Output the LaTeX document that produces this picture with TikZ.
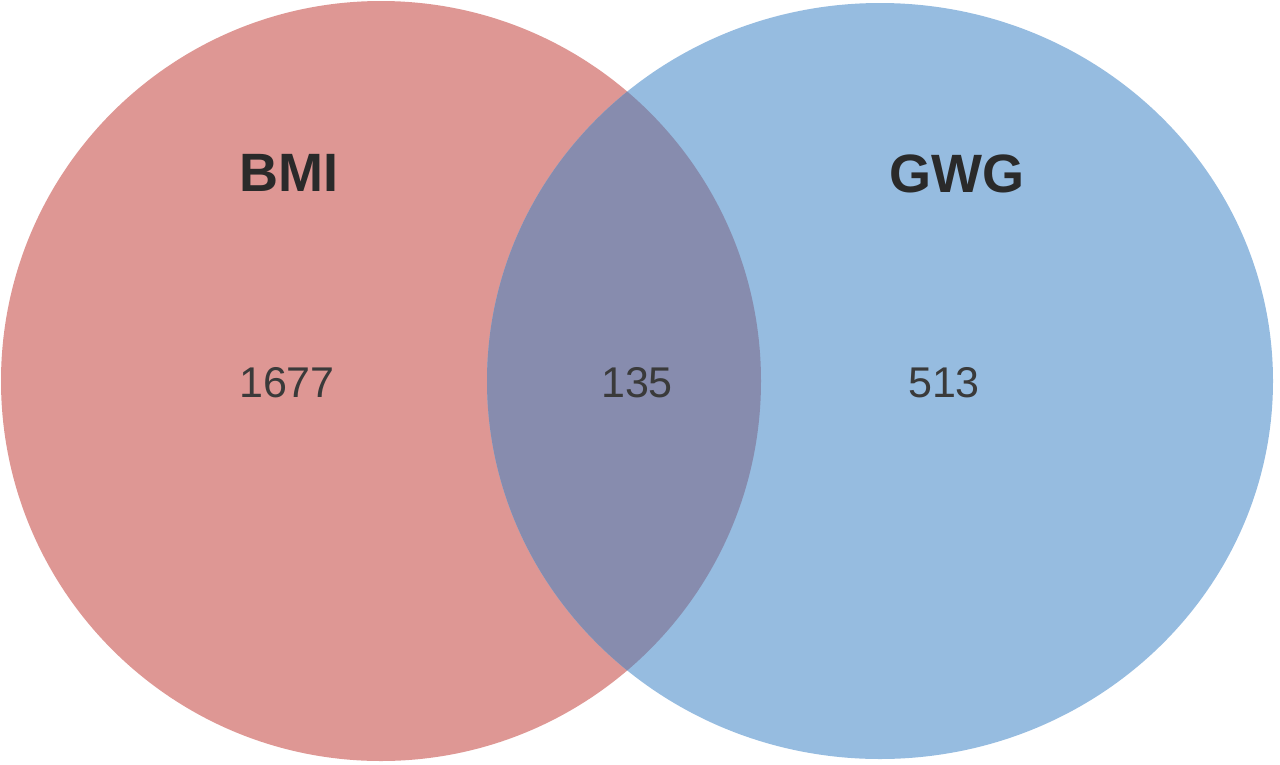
\documentclass[tikz,border=0pt]{standalone}
\usepackage{fontspec}
\setmainfont{Liberation Sans}
\definecolor{redset}{HTML}{DE9794}
\definecolor{blueset}{HTML}{96BCE0}
\definecolor{bothset}{HTML}{878CAE}
\definecolor{labelcol}{HTML}{2A2A2A}
\definecolor{numcol}{HTML}{3A3A3A}
\begin{document}
\begin{tikzpicture}[x=1pt,y=-1pt,
  setlabel/.style={font=\fontsize{54}{60}\selectfont\bfseries,text=labelcol,inner sep=0pt},
  countlabel/.style={font=\fontsize{43}{50}\selectfont,text=numcol,inner sep=0pt}]
\useasboundingbox (0,0) rectangle (1280,764);
\fill[redset] (381,381) circle [radius=380];
\fill[blueset] (880,381) ellipse [x radius=393, y radius=378];
\begin{scope}
  \clip (381,381) circle [radius=380];
  \fill[bothset] (880,381) ellipse [x radius=393, y radius=378];
\end{scope}
\node[setlabel] (bmi) at (289,173) {BMI};
\node[setlabel] (gwg) at (957,174) {GWG};
\node[countlabel] (n1) at (287,383) {1677};
\node[countlabel] (n2) at (637,383) {135};
\node[countlabel] (n3) at (944,383) {513};
\end{tikzpicture}
\end{document}
